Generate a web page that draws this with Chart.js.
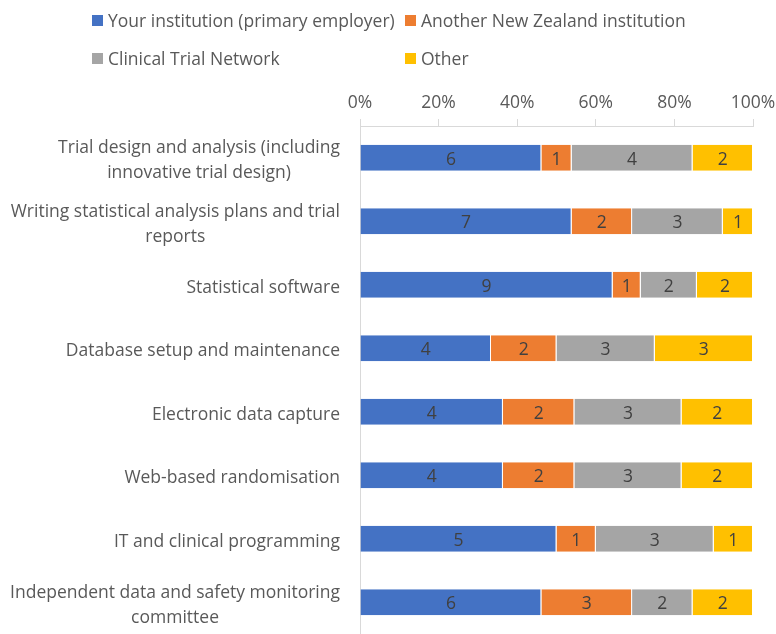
<!DOCTYPE html>
<html><head><meta charset="utf-8">
<script src="https://cdn.jsdelivr.net/npm/chart.js@4"></script>
<style>
html,body{margin:0;padding:0;background:#fff;}
#wrap{position:relative;width:776px;height:634px;}
#legend{position:absolute;left:0;top:0;width:776px;height:80px;font-family:'Open Sans','Noto Sans',sans-serif;font-size:17.5px;color:#595959;}
.item{position:absolute;display:flex;align-items:center;white-space:nowrap;height:22px;}
.sw{width:11px;height:11px;margin-right:5px;}
</style></head><body>
<div id="wrap"><canvas id="c" width="776" height="634"></canvas><div id="legend"></div></div>
<script>
const categories = [
  ["Trial design and analysis (including", "innovative trial design)"],
  ["Writing statistical analysis plans and trial", "reports"],
  "Statistical software",
  "Database setup and maintenance",
  "Electronic data capture",
  "Web-based randomisation",
  "IT and clinical programming",
  ["Independent data and safety monitoring", "committee"]
];
const seriesNames = ["Your institution (primary employer)", "Another New Zealand institution", "Clinical Trial Network", "Other"];
const yourInstitution = [6, 7, 9, 4, 4, 4, 5, 6];
const anotherNZ       = [1, 2, 1, 2, 2, 2, 1, 3];
const clinicalNetwork = [4, 3, 2, 3, 3, 3, 3, 2];
const other           = [2, 1, 2, 3, 2, 2, 1, 2];
const xTicks = [0, 20, 40, 60, 80, 100];
const colors = ["#4472C4", "#ED7D31", "#A5A5A5", "#FFC000"];

const counts = [yourInstitution, anotherNZ, clinicalNetwork, other];
const totals = categories.map((_, i) => counts.reduce((s, a) => s + a[i], 0));
const FONT = "'Open Sans', 'Noto Sans', sans-serif";
const FS = 17.5;

// HTML legend
const legendPos = [[92, 9], [405, 9], [92, 47], [405, 47]];
const lg = document.getElementById('legend');
seriesNames.forEach((n, i) => {
  const d = document.createElement('div');
  d.className = 'item';
  d.style.left = legendPos[i][0] + 'px';
  d.style.top = legendPos[i][1] + 'px';
  d.innerHTML = '<span class="sw" style="background:' + colors[i] + '"></span><span>' + n + '</span>';
  lg.appendChild(d);
});

const valueLabels = {
  id: 'valueLabels',
  afterDatasetsDraw(chart) {
    const ctx = chart.ctx;
    ctx.save();
    ctx.font = FS + 'px ' + FONT;
    ctx.fillStyle = '#404040';
    ctx.textAlign = 'center';
    ctx.textBaseline = 'middle';
    chart.data.datasets.forEach((ds, i) => {
      const meta = chart.getDatasetMeta(i);
      meta.data.forEach((el, j) => {
        const p = el.getProps(['x', 'base', 'y'], true);
        ctx.fillText(String(counts[i][j]), (p.x + p.base) / 2, p.y + 2);
      });
    });
    ctx.restore();
  }
};

const yLabels = {
  id: 'yLabels',
  afterDraw(chart) {
    const sc = chart.scales.y;
    const ctx = chart.ctx;
    ctx.save();
    ctx.font = FS + 'px ' + FONT;
    ctx.fillStyle = '#595959';
    ctx.textAlign = 'center';
    ctx.textBaseline = 'middle';
    const right = sc.right - 20;
    chart.data.labels.forEach((lab, i) => {
      const lines = Array.isArray(lab) ? lab : [lab];
      const w = Math.max(...lines.map(l => ctx.measureText(l).width));
      const cx = right - w / 2;
      const yc = sc.getPixelForTick(i);
      const lh = 25;
      lines.forEach((l, k) => ctx.fillText(l, cx, yc + 3 + (k - (lines.length - 1) / 2) * lh));
    });
    ctx.restore();
  }
};

new Chart(document.getElementById('c'), {
  type: 'bar',
  data: {
    labels: categories,
    datasets: seriesNames.map((n, i) => ({
      label: n,
      data: counts[i].map((v, j) => v / totals[j] * 100),
      backgroundColor: colors[i],
      borderColor: '#ffffff',
      borderWidth: {top: 0, bottom: 0, left: 0, right: 1},
      borderSkipped: false,
      barPercentage: 0.41,
      categoryPercentage: 1
    }))
  },
  options: {
    indexAxis: 'y',
    responsive: false,
    animation: false,
    layout: {padding: {top: 80, right: 23, left: 0, bottom: 0}},
    plugins: {legend: {display: false}, tooltip: {enabled: false}},
    scales: {
      x: {
        position: 'top',
        stacked: true,
        min: 0, max: 100,
        afterBuildTicks: s => { s.ticks = xTicks.map(v => ({value: v})); },
        afterFit: s => { s.height = 46; s.paddingRight = 0; s.paddingLeft = 0; },
        ticks: {
          callback: v => v + '%',
          color: '#595959',
          font: {family: FONT, size: FS},
          padding: 5,
          maxRotation: 0
        },
        grid: {drawOnChartArea: false, drawTicks: true, tickLength: 7, color: '#d9d9d9'},
        border: {color: '#d9d9d9', width: 1}
      },
      y: {
        stacked: true,
        afterFit: s => { s.width = 360; },
        ticks: {display: false},
        grid: {drawOnChartArea: false, drawTicks: false, color: '#d9d9d9'},
        border: {color: '#d9d9d9', width: 1}
      }
    }
  },
  plugins: [valueLabels, yLabels]
});
</script>
</body></html>
